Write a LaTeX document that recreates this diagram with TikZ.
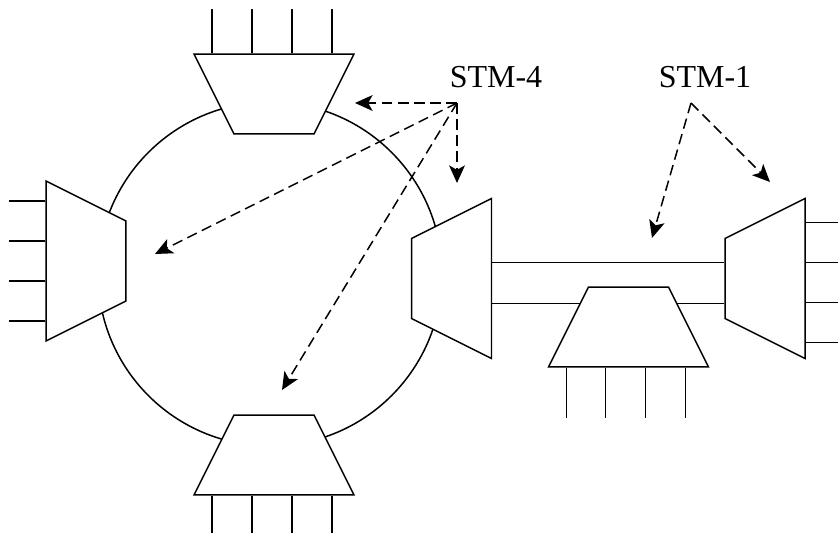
\documentclass[tikz,border=0pt]{standalone}
\usepackage{fontspec}
\setmainfont{Liberation Serif}
\usetikzlibrary{arrows.meta, shapes.geometric, calc}

\begin{document}
\begin{tikzpicture}[
            x=0.02cm, y=-0.02cm,
            wire/.style={line width=0.85pt},
            mux/.style={draw, fill=white, trapezium, trapezium angle=63.43,
                inner xsep=0.8cm, inner ysep=0.8cm, wire},
            ptr/.style={-{Stealth[length=10pt, width=9pt, inset=2.5pt]}, dash pattern=on 6pt off 3.2pt, wire},
            lbl/.style={font=\fontsize{18.2}{20}\selectfont, anchor=base, inner sep=0pt}
        ]
        \useasboundingbox (0,0) rectangle (838,533);

        % --- ring ---
        \node[draw, circle, minimum size=6.88cm, inner sep=0pt, wire] (ring) at (270,274) {};

        % --- STM-1 link ---
        \node[mux, shape border rotate=90] (ringmux) at (451.5,278.5) {};
        \node[mux, shape border rotate=90] (farmux) at (765,278.5) {};
        \draw[wire] ($(ringmux.east)+(0,-16)$) -- ($(farmux.west)+(0,-16)$);
        \draw[wire] ($(ringmux.east)+(0,25)$) -- ($(farmux.west)+(0,25)$);

        % --- add/drop muxes ---
        \node[mux, shape border rotate=180] (topmux) at (274,94) {};
        \node[mux, shape border rotate=270] (leftmux) at (86,261) {};
        \node[mux] (botmux) at (274,455) {};
        \node[mux] (addmux) at (628.5,327) {};

        % --- tributaries ---
        \foreach \d in {-62,-22,18,58} {
            \draw[wire] ($(topmux.north)+(\d,0)$) -- ++(0,-44);
            \draw[wire] ($(botmux.south)+(\d,0)$) -- ++(0,37);
        }
        \foreach \d in {-60,-20,20,60}
            \draw[wire] ($(leftmux.west)+(0,\d)$) -- ++(-36,0);
        \foreach \d in {-62,-23,17,57}
            \draw[wire] ($(addmux.south)+(\d,0)$) -- ++(0,50);
        \foreach \d in {-56,-16,24,64}
            \draw[wire] ($(farmux.east)+(0,\d)$) -- ++(33,0);

        % --- labels ---
        \node[lbl] (stm4lbl) at (496,88) {STM-4};
        \node[lbl] (stm1lbl) at (705,88) {STM-1};
        \coordinate (stm4) at (457,103);
        \coordinate (stm1) at (691,103);
        \coordinate (t4a) at (355,103);
        \coordinate (t4b) at (457,183);
        \coordinate (t4c) at (155,254);
        \coordinate (t4d) at (282,390);
        \coordinate (t1a) at (770,182);
        \coordinate (t1b) at (652,238);
        \foreach \t in {t4a,t4b,t4c,t4d}
            \draw[ptr] (stm4) -- (\t);
        \foreach \t in {t1a,t1b}
            \draw[ptr] (stm1) -- (\t);
\end{tikzpicture}
\end{document}
